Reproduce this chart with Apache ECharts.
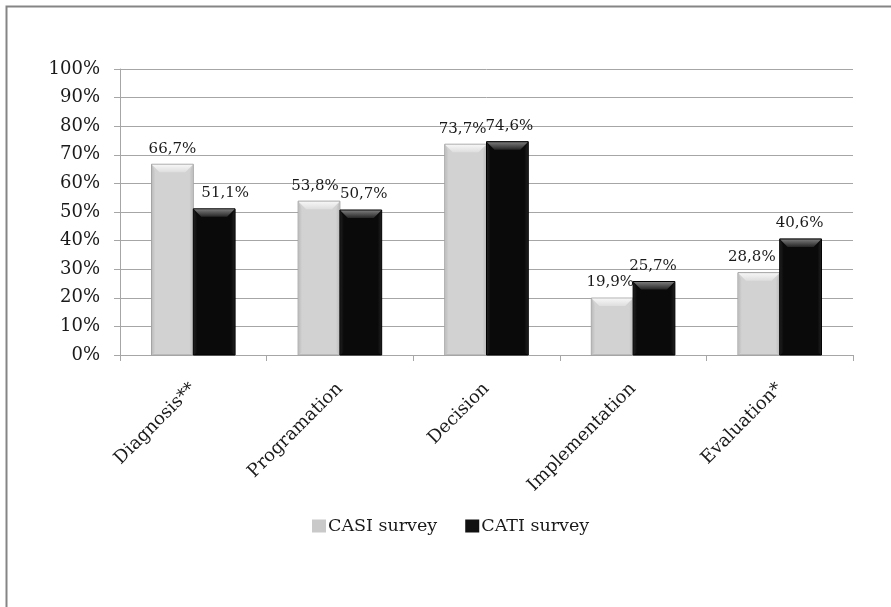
<!DOCTYPE html>
<html>
<head>
<meta charset="utf-8">
<script src="https://cdn.jsdelivr.net/npm/echarts@6/dist/echarts.min.js"></script>
<style>
  html, body { margin: 0; padding: 0; background: #ffffff; }
  #chart { width: 891px; height: 607px; }
</style>
</head>
<body>
<div id="chart"></div>
<script>
// Share of respondents per stage, by survey mode
const categories = ['Diagnosis**', 'Programation', 'Decision', 'Implementation', 'Evaluation*'];
const casiValues = [66.7, 53.8, 73.7, 19.9, 28.8];
const catiValues = [51.1, 50.7, 74.6, 25.7, 40.6];
const seriesNames = ['CASI survey', 'CATI survey'];
const yTicks = { min: 0, max: 100, interval: 10 };

// Horizontal nudges (px) that keep neighbouring value labels apart
const labelNudge = [
  [0, -4, -3, -2, -7],
  [11, 3, 2, -1, -1]
];

const FONT = '"DejaVu Serif", "Liberation Serif", serif';

const palettes = [
  { body: '#d2d2d2', topA: '#f6f6f6', topB: '#dedede', side: '#bdbdbd', edge: '#a3a3a3', legend: '#c9c9c9' },
  { body: '#0a0a0a', topA: '#7a7a7a', topB: '#262626', side: '#1e1e1e', edge: '#000000', legend: '#111111' }
];

function pct(v) {
  return v.toFixed(1).replace('.', ',') + '%';
}

// Bevelled bar drawn from the category/value scales
function makeRenderer(seriesIndex) {
  const pal = palettes[seriesIndex];
  return function (params, api) {
    const cat = api.value(0);
    const val = api.value(1);
    const band = api.size([1, 0])[0];
    const w = band * 0.285;
    const base = api.coord([cat, 0]);
    const top = api.coord([cat, val]);
    const x = seriesIndex === 0 ? base[0] - w : base[0];
    const y0 = top[1];
    const y1 = base[1];
    const h = y1 - y0;
    const b = Math.min(8, h / 3);
    const s = 4;
    const nudge = labelNudge[seriesIndex][params.dataIndex] || 0;
    return {
      type: 'group',
      children: [
        { type: 'rect', shape: { x: x, y: y0, width: w, height: h },
          style: { fill: pal.body, stroke: pal.edge, lineWidth: 1 } },
        { type: 'polygon', shape: { points: [[x + 0.5, y1], [x + s, y1 - 3], [x + s, y0 + b], [x + 0.5, y0 + 0.5]] },
          style: { fill: new echarts.graphic.LinearGradient(0, 0, 1, 0, [
            { offset: 0, color: pal.side }, { offset: 1, color: pal.body }
          ]) } },
        { type: 'polygon', shape: { points: [[x + w - 0.5, y1], [x + w - s, y1 - 3], [x + w - s, y0 + b], [x + w - 0.5, y0 + 0.5]] },
          style: { fill: new echarts.graphic.LinearGradient(1, 0, 0, 0, [
            { offset: 0, color: pal.side }, { offset: 1, color: pal.body }
          ]) } },
        { type: 'polygon', shape: { points: [[x + 0.5, y0 + 0.5], [x + w - 0.5, y0 + 0.5], [x + w - b, y0 + b], [x + b, y0 + b]] },
          style: { fill: new echarts.graphic.LinearGradient(0, 0, 0, 1, [
            { offset: 0, color: pal.topA }, { offset: 1, color: pal.topB }
          ]) } },
        { type: 'text', x: x + w / 2 + nudge, y: y0 - 8,
          style: { text: pct(val), fill: '#1a1a1a', font: '15px ' + FONT, align: 'center', verticalAlign: 'bottom' } }
      ]
    };
  };
}

const chart = echarts.init(document.getElementById('chart'), null, { renderer: 'canvas' });

chart.setOption({
  animation: false,
  backgroundColor: '#ffffff',
  graphic: [{
    type: 'rect',
    shape: { x: 6.5, y: 6.5, width: 1000, height: 1000 },
    style: { fill: 'none', stroke: '#858585', lineWidth: 2 },
    silent: true
  }],
  grid: { left: 120, right: 38, top: 69, bottom: 252, containLabel: false },
  legend: {
    left: 307,
    top: 512,
    itemWidth: 14,
    itemHeight: 13,
    itemGap: 28,
    icon: 'rect',
    textStyle: { fontFamily: FONT, fontSize: 17.5, color: '#1a1a1a', padding: [0, 0, 0, -3] },
    data: seriesNames
  },
  xAxis: {
    type: 'category',
    data: categories,
    axisLine: { lineStyle: { color: '#a6a6a6', width: 1 } },
    axisTick: { show: true, length: 6, alignWithLabel: false, lineStyle: { color: '#a6a6a6' } },
    axisLabel: { rotate: 45, margin: 31, interval: 0, fontFamily: FONT, fontSize: 18, color: '#1a1a1a' },
    splitLine: { show: false }
  },
  yAxis: {
    type: 'value',
    min: yTicks.min,
    max: yTicks.max,
    interval: yTicks.interval,
    axisLine: { show: true, lineStyle: { color: '#a6a6a6', width: 1 } },
    axisTick: { show: true, length: 6, lineStyle: { color: '#a6a6a6' } },
    axisLabel: { formatter: '{value}%', margin: 20, fontFamily: FONT, fontSize: 18, color: '#1a1a1a' },
    splitLine: { lineStyle: { color: '#a6a6a6', width: 1 } }
  },
  series: [
    {
      name: seriesNames[0],
      type: 'custom',
      renderItem: makeRenderer(0),
      itemStyle: { color: palettes[0].legend },
      encode: { x: 0, y: 1 },
      data: casiValues.map((v, i) => [i, v])
    },
    {
      name: seriesNames[1],
      type: 'custom',
      renderItem: makeRenderer(1),
      itemStyle: { color: palettes[1].legend },
      encode: { x: 0, y: 1 },
      data: catiValues.map((v, i) => [i, v])
    }
  ]
});
</script>
</body>
</html>
